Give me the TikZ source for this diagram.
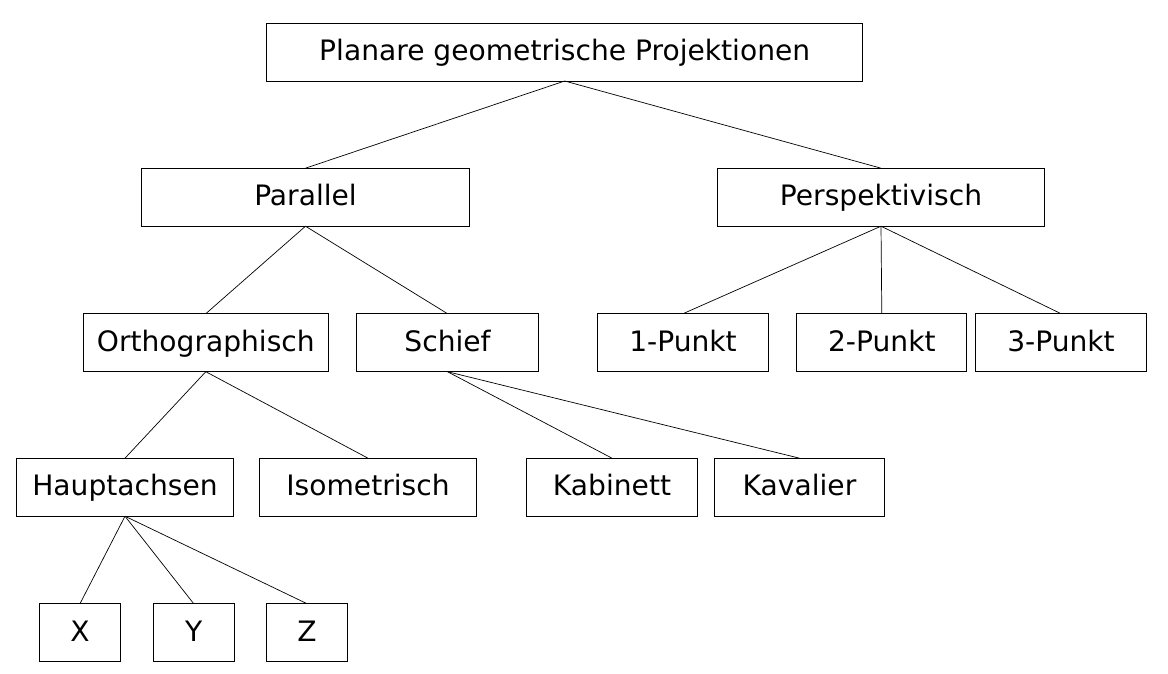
\documentclass[tikz,border=0pt]{standalone}
\usepackage{fontspec}
\setmainfont{DejaVu Sans}
\usepackage{tikz}
\usetikzlibrary{positioning}

\begin{document}
\begin{tikzpicture}[
  x=0.025cm, y=-0.025cm,
  font=\fontsize{20}{24}\selectfont,
  box/.style={draw=black, line width=0.6pt, inner sep=0pt, outer sep=0pt, minimum height=1.45cm, text height=0.42cm, text depth=0cm},
  edge/.style={line width=0.5pt},
]
\useasboundingbox (0,0) rectangle (1168,674);

% Root and first level
\node[box, minimum width=14.9cm] (root) at (564.7, 52) {Planare geometrische Projektionen};
\node[box, minimum width=8.2cm] (par) at (305.5, 197.2) {Parallel};
\node[box, minimum width=8.17cm] (persp) at (881, 197.2) {Perspektivisch};

% Second level
\node[box, minimum width=6.12cm] (ortho) at (205.8, 342.7) {Orthographisch};
\node[box, minimum width=4.54cm] (schief) at (447.5, 342.7) {Schief};
\node[box, minimum width=4.26cm] (p1) at (683, 342.7) {1-Punkt};
\node[box, minimum width=4.25cm] (p2) at (881.8, 342.7) {2-Punkt};
\node[box, minimum width=4.26cm] (p3) at (1061, 342.7) {3-Punkt};

% Third level
\node[box, minimum width=5.42cm] (haupt) at (125, 487.2) {Hauptachsen};
\node[box, minimum width=5.41cm] (iso) at (368, 487.2) {Isometrisch};
\node[box, minimum width=4.26cm] (kab) at (612, 487.2) {Kabinett};
\node[box, minimum width=4.23cm] (kav) at (799.5, 487.2) {Kavalier};

% Axes
\node[box, minimum width=2.03cm] (ax) at (80, 632.7) {X};
\node[box, minimum width=2.03cm] (ay) at (193.7, 632.7) {Y};
\node[box, minimum width=2.03cm] (az) at (307, 632.7) {Z};

% Connectors
\draw[edge] (root.south) -- (par.north);
\draw[edge] (root.south) -- (persp.north);
\draw[edge] (par.south) -- (ortho.north);
\draw[edge] (par.south) -- (schief.north);
\draw[edge] (persp.south) -- (p1.north);
\draw[edge] (persp.south) -- (p2.north);
\draw[edge] (persp.south) -- (p3.north);
\draw[edge] (ortho.south) -- (haupt.north);
\draw[edge] (ortho.south) -- (iso.north);
\draw[edge] (schief.south) -- (kab.north);
\draw[edge] (schief.south) -- (kav.north);
\draw[edge] (haupt.south) -- (ax.north);
\draw[edge] (haupt.south) -- (ay.north);
\draw[edge] (haupt.south) -- (az.north);

\end{tikzpicture}
\end{document}
